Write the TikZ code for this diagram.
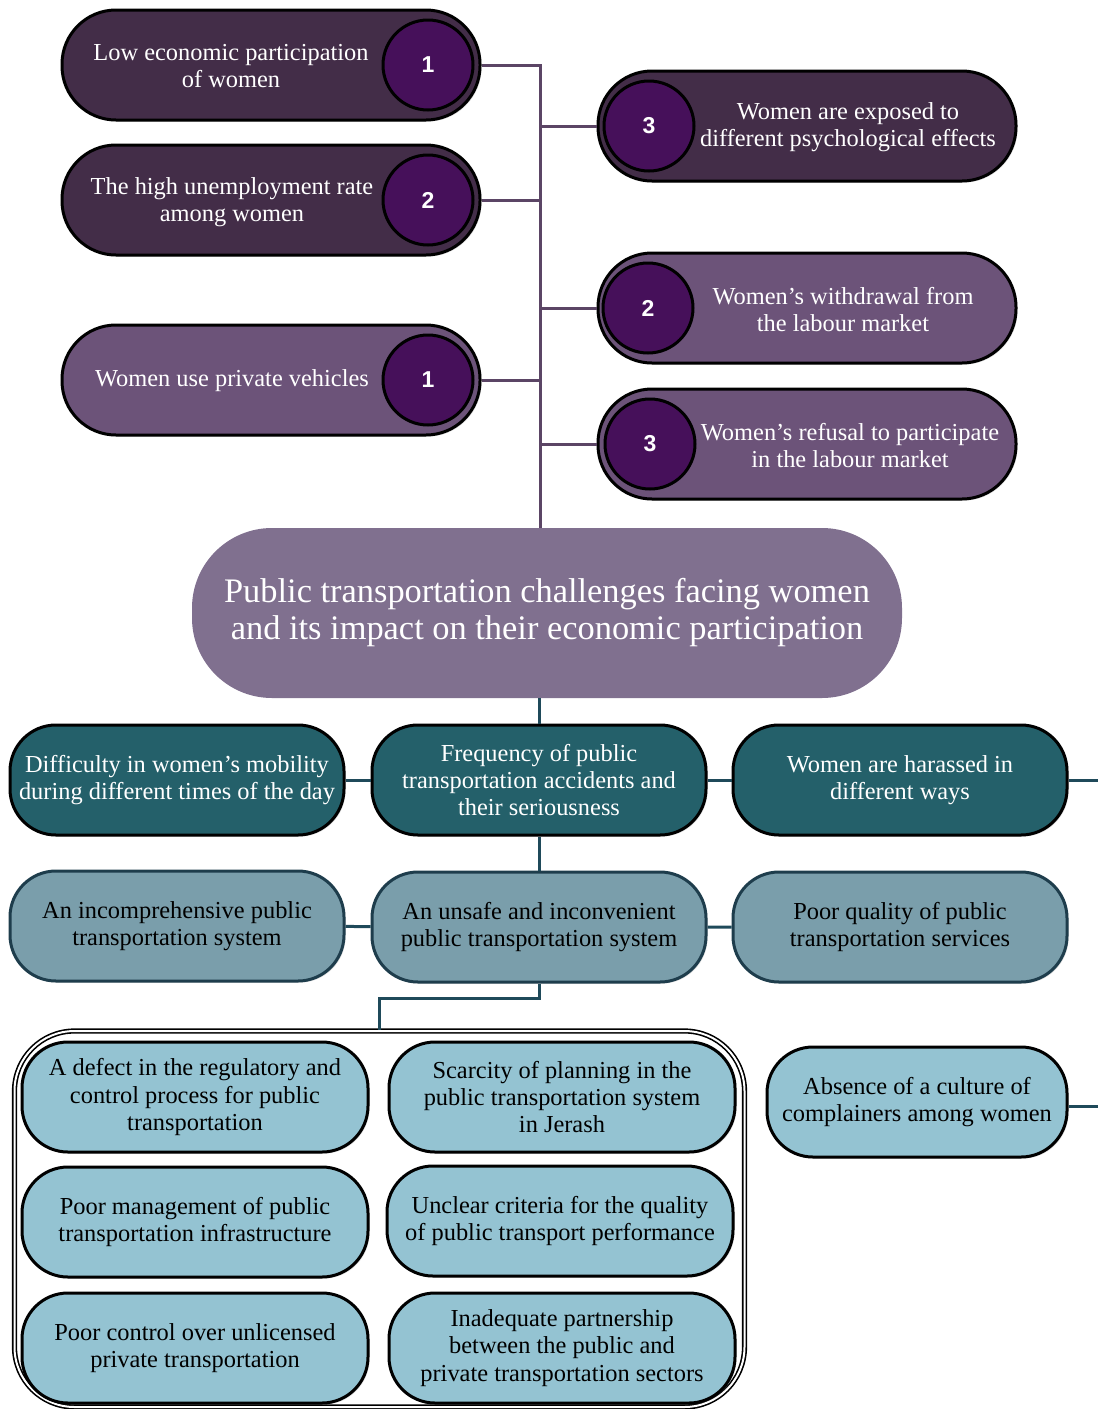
\documentclass[tikz,border=0pt]{standalone}
\usepackage{fontspec}
\setmainfont{Liberation Serif}
\setsansfont{Liberation Sans}
\usetikzlibrary{shadows}
\definecolor{plumdark}{HTML}{432D48}
\definecolor{plumlight}{HTML}{6C5379}
\definecolor{plumbadge}{HTML}{46105A}
\definecolor{plumhub}{HTML}{80708F}
\definecolor{plumline}{HTML}{5B4565}
\definecolor{tealdark}{HTML}{24606A}
\definecolor{tealmid}{HTML}{7A9EAB}
\definecolor{tealedge}{HTML}{1E3D4C}
\definecolor{tealpale}{HTML}{94C3D2}
\definecolor{tealline}{HTML}{1F4A5A}
\tikzset{pill/.style={rectangle,rounded corners=27pt,minimum width=209pt,minimum height=55pt,
    draw=black,line width=1.5pt,inner sep=0pt,drop shadow={opacity=.25,shadow xshift=.8pt,shadow yshift=-.8pt}},
  darkpill/.style={pill,fill=plumdark},
  lightpill/.style={pill,fill=plumlight},
  badge/.style={circle,draw=black,line width=1.5pt,fill=plumbadge,minimum size=45pt,inner sep=0pt,
    text=white,font=\sffamily\bfseries\fontsize{11.5}{13}\selectfont},
  pilltext/.style={text=white,align=center,font=\fontsize{12.2}{13.5}\selectfont},
  hub/.style={rectangle,rounded corners=40pt,minimum width=355pt,minimum height=85pt,fill=plumhub,
    text=white,align=center,font=\fontsize{17.2}{18.5}\selectfont},
  boxbase/.style={rectangle,rounded corners=23pt,minimum width=167pt,minimum height=55pt,inner sep=1pt,
    line width=1.5pt,align=center,font=\fontsize{12.2}{13.7}\selectfont,
    drop shadow={opacity=.25,shadow xshift=.8pt,shadow yshift=-.8pt}},
  cause/.style={boxbase,draw=black,fill=tealdark,text=white},
  factor/.style={boxbase,draw=tealedge,fill=tealmid,text=black},
  detail/.style={boxbase,draw=black,fill=tealpale,text=black,minimum width=173pt},
  plumlink/.style={draw=plumline,line width=1.5pt},
  teallink/.style={draw=tealline,line width=1.5pt}}

\begin{document}
\begin{tikzpicture}[x=0.5pt,y=-0.5pt]
  \useasboundingbox (0,0) rectangle (1098,1409);
  % left column
  \node[darkpill] (low) at (271,65) {};
  \node[badge] (low-n) at (428,65) {1};
  \node[pilltext] at (231,66) {Low economic participation\\of women};
  \node[darkpill] (unemp) at (271,200) {};
  \node[badge] (unemp-n) at (428,200) {2};
  \node[pilltext] at (232,202) {The high unemployment rate\\among women};
  \node[lightpill] (priv) at (271,380) {};
  \node[badge] (priv-n) at (428,380) {1};
  \node[pilltext] at (232,381) {Women use private vehicles};
  % right column
  \node[darkpill] (psych) at (807,126) {};
  \node[badge] (psych-n) at (649,126) {3};
  \node[pilltext] at (848,127) {Women are exposed to\\different psychological effects};
  \node[lightpill] (withdr) at (807,308) {};
  \node[badge] (withdr-n) at (648,308) {2};
  \node[pilltext] at (843,310) {Women's withdrawal from\\the labour market};
  \node[lightpill] (refus) at (807,444) {};
  \node[badge] (refus-n) at (650,444) {3};
  \node[pilltext] at (850,446) {Women's refusal to participate\\in the labour market};
  % centre
  \node[hub] (centre) at (547,613) {Public transportation challenges facing women\\and its impact on their economic participation};
  \coordinate (spine) at (540,65);
  \draw[plumlink] (low.east) -- (spine) -- (spine |- centre.north);
  \foreach \n in {unemp,priv}{\draw[plumlink] (\n.east) -- (\n.east -| spine);}
  \foreach \n in {psych,withdr,refus}{\draw[plumlink] (\n.west) -- (\n.west -| spine);}
  % causes
  \node[cause] (mobil) at (177,780) {Difficulty in women's mobility\\during different times of the day};
  \node[cause] (accid) at (539,780) {Frequency of public\\transportation accidents and\\their seriousness};
  \node[cause] (harass) at (900,780) {Women are harassed in\\different ways};
  \coordinate (harass-out) at (1098,780);
  \draw[teallink] (centre.south -| accid) -- (accid.north);
  \draw[teallink] (mobil) -- (accid) -- (harass);
  \draw[teallink] (harass.east) -- (harass-out);
  % factors
  \node[factor] (incomp) at (177,926) {An incomprehensive public\\transportation system};
  \node[factor] (unsafe) at (539,927) {An unsafe and inconvenient\\public transportation system};
  \node[factor] (quality) at (900,927) {Poor quality of public\\transportation services};
  \draw[teallink] (accid.south) -- (unsafe.north);
  \draw[teallink] (incomp) -- (unsafe) -- (quality);
  % details
  \node[rectangle,rounded corners=30pt,draw=black,double=white,double distance=1pt,line width=.8pt,
    minimum width=365pt,minimum height=188pt] (cluster) at (379.5,1219) {};
  \draw[teallink] (unsafe.south) -- ++(0,15) -| (cluster.north);
  \node[detail] (regul) at (195,1097) {A defect in the regulatory and\\control process for public\\transportation};
  \node[detail] (plann) at (562,1097) {Scarcity of planning in the\\public transportation system\\in Jerash};
  \node[detail] (infra) at (195,1222) {Poor management of public\\transportation infrastructure};
  \node[detail] (crit) at (560,1221) {Unclear criteria for the quality\\of public transport performance};
  \node[detail] (unlic) at (195,1348) {Poor control over unlicensed\\private transportation};
  \node[detail] (partn) at (562,1348) {Inadequate partnership\\between the public and\\private transportation sectors};
  \node[detail,minimum width=150pt] (compl) at (917,1102) {Absence of a culture of\\complainers among women};
  \coordinate (compl-out) at (1098,1106);
  \draw[teallink] (compl.east |- compl-out) -- (compl-out);
\end{tikzpicture}
\end{document}
